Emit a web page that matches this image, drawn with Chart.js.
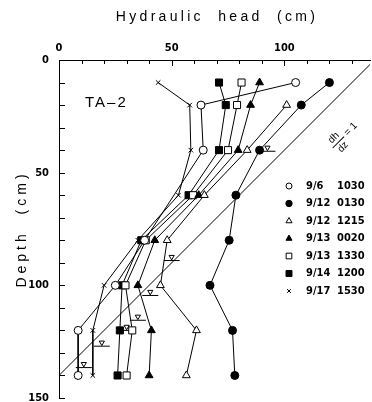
<!DOCTYPE html>
<html>
<head>
<meta charset="utf-8">
<script src="https://cdn.jsdelivr.net/npm/chart.js@4.4.0/dist/chart.umd.min.js"></script>
<style>
  html, body { margin: 0; padding: 0; background: #fff; }
</style>
</head>
<body>
<canvas id="myChart" width="372" height="402"></canvas>
<script>
// depth of the piezometers (cm)
const depths = [10, 20, 40, 60, 80, 100, 120, 140];

// hydraulic head (cm) for each observation, null = no reading
const head0906_1030 = [105, 63, 64, null, 38, 25, 8.5, 8.5];
const head0912_0130 = [120, 107.5, 89, 78.5, 75.5, 67, 77, 78];
const head0912_1215 = [null, 101, 83.5, 64.5, 48, 45, 61, 56.5];
const head0913_0020 = [89, 85, 79.5, 62, 42.5, 35, 41, 40];
const head0913_1330 = [81, 79, 75, 59.5, 38.5, 29.5, 32.5, 30];
const head0914_1200 = [71, 74, 71, 57.5, 36.5, 28, 27, 26];
const head0917_1530 = [44, 58, 58.5, 53, 35, 20, 15, 15];

const dates = ['9/6', '9/12', '9/12', '9/13', '9/13', '9/14', '9/17'];
const times = ['1030', '0130', '1215', '0020', '1330', '1200', '1530'];

// water table marks (head, depth)
const wtHead = [92.5, 50, 40.5, 35, 30, 19, 11];
const wtDepth = [40.5, 89, 104.5, 115.5, 120, 127, 136.5];

// unit gradient reference line dh/dz = 1
const refHead = [0, 140];
const refDepth = [140, 0];

const allHeads = [head0906_1030, head0912_0130, head0912_1215, head0913_0020,
                  head0913_1330, head0914_1200, head0917_1530];
const styles = ['circle', 'circle', 'triangle', 'triangle', 'rect', 'rect', 'crossRot'];
const filled = [false, true, false, true, false, true, false];
const radii = [4, 4, 4.5, 4.5, 5, 5, 3.2];
const legendRadii = [3, 3.2, 3.5, 3.5, 4, 4.2, 2.6];

function toPoints(xs, ys) {
    return xs.map((v, i) => v == null ? null : { x: v, y: ys[i] }).filter(Boolean);
}

const datasets = allHeads.map((h, i) => ({
    label: dates[i] + ' ' + times[i],
    data: toPoints(h, depths),
    showLine: true,
    borderColor: '#000',
    borderWidth: 1,
    pointStyle: styles[i],
    pointRadius: radii[i],
    pointBorderWidth: 1,
    pointBorderColor: '#000',
    pointBackgroundColor: filled[i] ? '#000' : '#fff'
}));

// water table: triangle + underline
datasets.push({
    data: toPoints(wtHead, wtDepth.map(d => d - 1.6)),
    showLine: false,
    pointStyle: 'triangle',
    rotation: 180,
    pointRadius: 3,
    pointBorderColor: '#000',
    pointBackgroundColor: '#fff',
    pointBorderWidth: 1
});
datasets.push({
    data: toPoints(wtHead, wtDepth),
    showLine: false,
    pointStyle: 'line',
    pointRadius: 8,
    pointBorderColor: '#000',
    pointBorderWidth: 1
});
datasets.push({
    data: toPoints(refHead, refDepth),
    showLine: true,
    borderColor: '#000',
    borderWidth: 1,
    pointRadius: 0
});

const tickFont = { family: '"Liberation Sans Narrow", "DejaVu Sans Condensed", sans-serif', size: 11, weight: 'bold' };

function noPad(s) {
    s.paddingLeft = 0;
    s.paddingRight = 0;
    s.paddingTop = 0;
    s.paddingBottom = 0;
}

const overlay = {
    id: 'overlay',
    afterDraw(chart) {
        const c = chart.ctx, xs = chart.scales.x, ys = chart.scales.y, a = chart.chartArea;
        c.save();
        c.strokeStyle = '#000';
        c.fillStyle = '#000';
        c.lineWidth = 1;

        // inward ticks
        c.beginPath();
        for (let v = 0; v <= 130; v += 10) {
            const px = Math.round(xs.getPixelForValue(v)) + 0.5;
            c.moveTo(px, a.top);
            c.lineTo(px, a.top + (v % 50 === 0 ? 6 : 4));
        }
        for (let v = 0; v <= 150; v += 10) {
            const py = Math.round(ys.getPixelForValue(v)) + 0.5;
            c.moveTo(a.left, py);
            c.lineTo(a.left + 6, py);
        }
        c.stroke();

        // axis titles
        c.font = '14px "Liberation Sans", sans-serif';
        c.letterSpacing = '3.3px';
        c.textAlign = 'center';
        c.textBaseline = 'middle';
        c.fillText('Hydraulic  head  (cm)', 217, 17);

        c.save();
        c.translate(22, 229);
        c.rotate(-Math.PI / 2);
        c.letterSpacing = '4px';
        c.fillText('Depth  (cm)', 0, 0);
        c.restore();

        // site label
        c.font = '15px "Liberation Sans", sans-serif';
        c.letterSpacing = '2px';
        c.textAlign = 'left';
        c.fillText('TA\u20132', 85, 103);

        // dh/dz = 1
        c.letterSpacing = '0px';
        c.save();
        c.translate(338, 142);
        c.rotate(-Math.PI / 4);
        c.font = '10px "Liberation Sans", sans-serif';
        c.textAlign = 'center';
        c.fillText('dh', 0, -6);
        c.fillText('dz', 0, 7);
        c.beginPath();
        c.moveTo(-8, 0.5);
        c.lineTo(8, 0.5);
        c.stroke();
        c.textAlign = 'left';
        c.fillText('= 1', 11, 0);
        c.restore();

        // legend
        c.font = 'bold 11px "Liberation Sans Narrow", "DejaVu Sans Condensed", sans-serif';
        c.textBaseline = 'middle';
        for (let i = 0; i < dates.length; i++) {
            const y = 186 + i * 17.5;
            c.fillStyle = filled[i] ? '#000' : '#fff';
            c.strokeStyle = '#000';
            Chart.helpers.drawPoint(c, {
                pointStyle: styles[i], radius: legendRadii[i], rotation: 0, borderWidth: 1
            }, 289, y);
            c.fillStyle = '#000';
            c.fillText(dates[i], 306, y);
            c.fillText(times[i], 337, y);
        }
        c.restore();
    }
};

const ctx = document.getElementById('myChart').getContext('2d');
const myChart = new Chart(ctx, {
    type: 'scatter',
    data: { datasets: datasets },
    options: {
        responsive: false,
        animation: false,
        layout: { autoPadding: false, padding: { top: 0, left: 0, right: 2, bottom: 4 } },
        plugins: { legend: { display: false }, tooltip: { enabled: false } },
        scales: {
            x: {
                type: 'linear',
                position: 'top',
                min: 0,
                max: 138,
                border: { display: true, color: '#000', width: 1 },
                grid: { display: true, drawOnChartArea: false, drawTicks: false },
                ticks: {
                    stepSize: 10,
                    autoSkip: false,
                    maxRotation: 0,
                    padding: 5,
                    color: '#000',
                    font: tickFont,
                    callback: v => (v % 50 === 0 ? v : '')
                },
                afterFit: s => { s.height = 60; noPad(s); }
            },
            y: {
                type: 'linear',
                reverse: true,
                min: 0,
                max: 150,
                border: { display: true, color: '#000', width: 1 },
                grid: { display: true, drawOnChartArea: false, drawTicks: false },
                ticks: {
                    stepSize: 10,
                    autoSkip: false,
                    padding: 10,
                    color: '#000',
                    font: tickFont,
                    callback: v => (v % 50 === 0 ? v : '')
                },
                afterFit: s => { s.width = 59; noPad(s); }
            }
        }
    },
    plugins: [overlay]
});
</script>
</body>
</html>
